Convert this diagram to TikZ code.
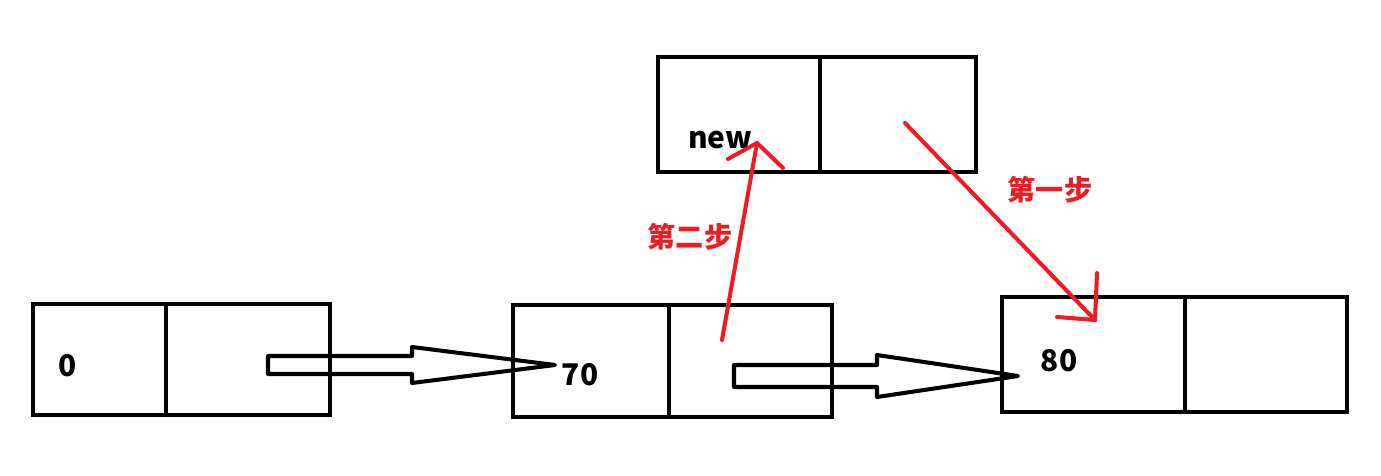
\documentclass[tikz,border=0pt]{standalone}
\usepackage{fontspec}
\newfontfamily\cjk{Noto Sans CJK SC}
\usetikzlibrary{calc,positioning}
\definecolor{stepred}{RGB}{237,28,36}

\begin{document}
\begin{tikzpicture}[
  x=0.02cm, y=-0.02cm,
  cell/.style={draw, line width=2.3pt, inner sep=0pt, outer sep=0pt},
  val/.style={font=\cjk\bfseries\fontsize{17pt}{19pt}\selectfont},
  steplabel/.style={text=stepred, font=\cjk\bfseries\fontsize{16pt}{18pt}\selectfont},
  hollow/.style={draw, line width=2.3pt, line join=round},
  redline/.style={draw=stepred, line width=2.3pt, line cap=round, line join=round}
]
\useasboundingbox (0,0) rectangle (1381,476);

% list nodes
\node[cell, minimum width=2.66cm, minimum height=2.22cm, anchor=north west] (a1) at (33,304) {};
\node[cell, minimum width=3.28cm, minimum height=2.22cm, right=0pt of a1] (a2) {};
\node[cell, minimum width=3.12cm, minimum height=2.24cm, anchor=north west] (b1) at (513,305) {};
\node[cell, minimum width=3.26cm, minimum height=2.24cm, right=0pt of b1] (b2) {};
\node[cell, minimum width=3.66cm, minimum height=2.30cm, anchor=north west] (c1) at (1002,297) {};
\node[cell, minimum width=3.24cm, minimum height=2.30cm, right=0pt of c1] (c2) {};
\node[cell, minimum width=3.24cm, minimum height=2.30cm, anchor=north west] (n1) at (658,57) {};
\node[cell, minimum width=3.12cm, minimum height=2.30cm, right=0pt of n1] (n2) {};

\node[val] (v0) at (68,366) {0};
\node[val] (v70) at (580,375) {70};
\node[val] (v80) at (1059,361) {80};
\node[val] (vnew) at (720,140) {new};

% next pointers
\coordinate (t1) at (268,365);
\coordinate (h1) at (555,365);
\draw[hollow] ($(t1)+(0,-9)$) -- ++(144,0) -- ++(0,-9) -- (h1)
  -- ($(t1)+(144,18)$) -- ++(0,-9) -- ($(t1)+(0,9)$) -- cycle;
\coordinate (t2) at (734,376);
\coordinate (h2) at (1018,376);
\draw[hollow] ($(t2)+(0,-11)$) -- ++(143,0) -- ++(0,-10) -- (h2)
  -- ($(t2)+(143,21)$) -- ++(0,-10) -- ($(t2)+(0,11)$) -- cycle;

% insertion steps
\coordinate (s1) at (905,123);
\coordinate (e1) at (1095,320);
\draw[redline] (s1) -- (e1);
\draw[redline] ($(e1)+(2,-47)$) -- (e1) -- ++(-38,-3);
\node[steplabel] (l1) at (1050,190) {第一步};

\coordinate (s2) at (722,340);
\coordinate (e2) at (757,143);
\draw[redline] (s2) -- (e2);
\draw[redline] ($(e2)+(-29,16)$) -- (e2) -- ++(26,25);
\node[steplabel] (l2) at (690,237) {第二步};
\end{tikzpicture}
\end{document}
